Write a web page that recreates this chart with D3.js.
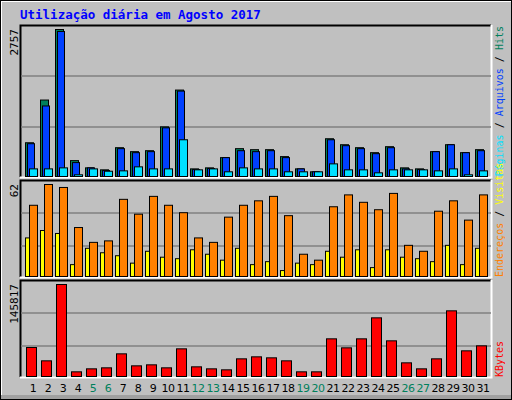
<!DOCTYPE html>
<html><head><meta charset="utf-8">
<script src="https://cdn.jsdelivr.net/npm/d3@7"></script>
<style>body{margin:0;background:#fff}</style></head>
<body><svg id="c" width="512" height="400"></svg>
<script>
const days = d3.range(1,32).map(String);
const weekend = ["5","6","12","13","19","20","26","27"];
const hits  = [633,1434,2757,298,162,125,540,466,484,931,1621,143,162,354,522,503,503,373,143,88,708,596,540,447,559,162,143,466,596,447,503];
const files = [615,1323,2720,261,162,112,522,447,466,913,1602,130,149,354,484,466,484,354,143,88,689,578,522,428,540,143,130,466,596,447,484];
const pages = [143,143,162,32,143,99,106,181,143,143,689,125,143,88,162,143,143,88,88,88,237,125,125,69,125,125,125,106,143,32,106];
const visits= [26,31,29,8,19,16,14,9,17,13,12,18,15,11,19,8,10,4,9,8,17,13,18,6,18,13,12,10,21,8,19];
const sites = [48,62,60,33,23,24,52,42,54,48,43,26,23,40,48,51,54,41,15,11,47,55,50,45,56,21,17,44,51,38,55];
const kbytes= [45960,24830,145817,7400,12150,13740,35920,16900,18490,13740,43850,15320,12150,10570,28000,31170,29590,24830,7400,7400,59700,45430,59700,92980,56530,21660,12150,28000,104080,40680,48600];
const maxHits=2757, maxSites=62, maxKB=145817;

const svg=d3.select("#c");
const mono="'DejaVu Sans Mono', monospace";
svg.append("rect").attr("x",0.5).attr("y",0.5).attr("width",511).attr("height",399).attr("fill","#C0C0C0").attr("stroke","#000");
svg.append("line").attr("x1",1).attr("x2",511).attr("y1",1.5).attr("y2",1.5).attr("stroke","#fff");
svg.append("line").attr("x1",1.5).attr("x2",1.5).attr("y1",1).attr("y2",399).attr("stroke","#fff");
svg.append("rect").attr("x",1).attr("y",395).attr("width",510).attr("height",4).attr("fill","#a0a0a0");
svg.append("text").attr("x",20).attr("y",19).attr("font-family",mono).attr("font-weight","bold").attr("font-size",12.5).attr("fill","#0000FF").text("Utilização diária em Agosto 2017");

const x=d3.scaleBand().domain(days).range([25,490]);
const L=20,R=491;
function panel(top,bot){
  svg.append("rect").attr("x",L).attr("y",top).attr("width",R-L).attr("height",bot-top).attr("fill","#C0C0C0");
  svg.append("path").attr("d",`M${L+0.5},${bot}V${top+0.5}H${R}`).attr("stroke","#000").attr("stroke-width",2).attr("fill","none");
  svg.append("path").attr("d",`M${L},${bot+0.5}H${R+0.5}V${top}`).attr("stroke","#fff").attr("stroke-width",2).attr("fill","none");
}
function grid(ys){ys.forEach(y=>svg.append("line").attr("x1",L+1).attr("x2",R).attr("y1",y).attr("y2",y).attr("stroke","#808080").attr("stroke-width",1.5));}
function bars(data,y,dx,w,color){
  svg.append("g").selectAll("rect").data(data).join("rect")
   .attr("x",(d,i)=>x(days[i])+dx+0.5).attr("width",w)
   .attr("y",d=>y(d)+0.5).attr("height",d=>Math.max(0,y(0)-y(d)))
   .attr("fill",color).attr("stroke","#000").attr("stroke-width",1);
}
function vlabel(txt,xp,yp,anchor,fill){
  svg.append("text").attr("transform",`translate(${xp},${yp}) rotate(-90)`).attr("text-anchor",anchor)
   .attr("font-family",mono).attr("font-size",11).attr("fill",fill||"#000").text(txt);
}

panel(25,177);
const y1=d3.scaleLinear().domain([0,maxHits]).range([176,29]);
grid([76,127]);
bars(hits,y1,0,8,"#00805C");
bars(files,y1,2,7,"#0040FF");
bars(pages,y1,4,8,"#00E0FF");
vlabel(String(maxHits),18,29,"end");

panel(180,277);
const y2=d3.scaleLinear().domain([0,maxSites]).range([276,184]);
grid([213,246]);
bars(visits,y2,0,4,"#FFFF00");
bars(sites,y2,4,8,"#FF8000");
vlabel(String(maxSites),18,184,"end");

panel(280,377);
const y3=d3.scaleLinear().domain([0,maxKB]).range([376,284]);
grid([313,346]);
bars(kbytes,y3,1,10,"#FF0000");
vlabel(String(maxKB),18,284,"end");

svg.append("g").selectAll("text").data(days).join("text")
 .attr("x",d=>x(d)+8).attr("y",392).attr("text-anchor","middle")
 .attr("font-family","'DejaVu Sans', sans-serif").attr("font-size",11).attr("letter-spacing",-0.5)
 .attr("fill",d=>weekend.includes(d)?"#00805C":"#000").text(d=>d);

function rlegend(parts,yp,anchor){
  const t=svg.append("text").attr("transform",`translate(503,${yp}) rotate(-90)`).attr("text-anchor",anchor)
   .attr("font-family",mono).attr("font-size",10);
  parts.forEach(([s,c])=>t.append("tspan").attr("fill",c).text(s));
}
rlegend([["Páginas","#00E0FF"],[" / ","#000"],["Arquivos","#0040FF"],[" / ","#000"],["Hits","#00805C"]],26,"end");
rlegend([["Endereços","#FF8000"],[" / ","#000"],["Visitas","#FFFF00"]],277,"start");
rlegend([["KBytes","#FF0000"]],377,"start");
</script></body></html>
